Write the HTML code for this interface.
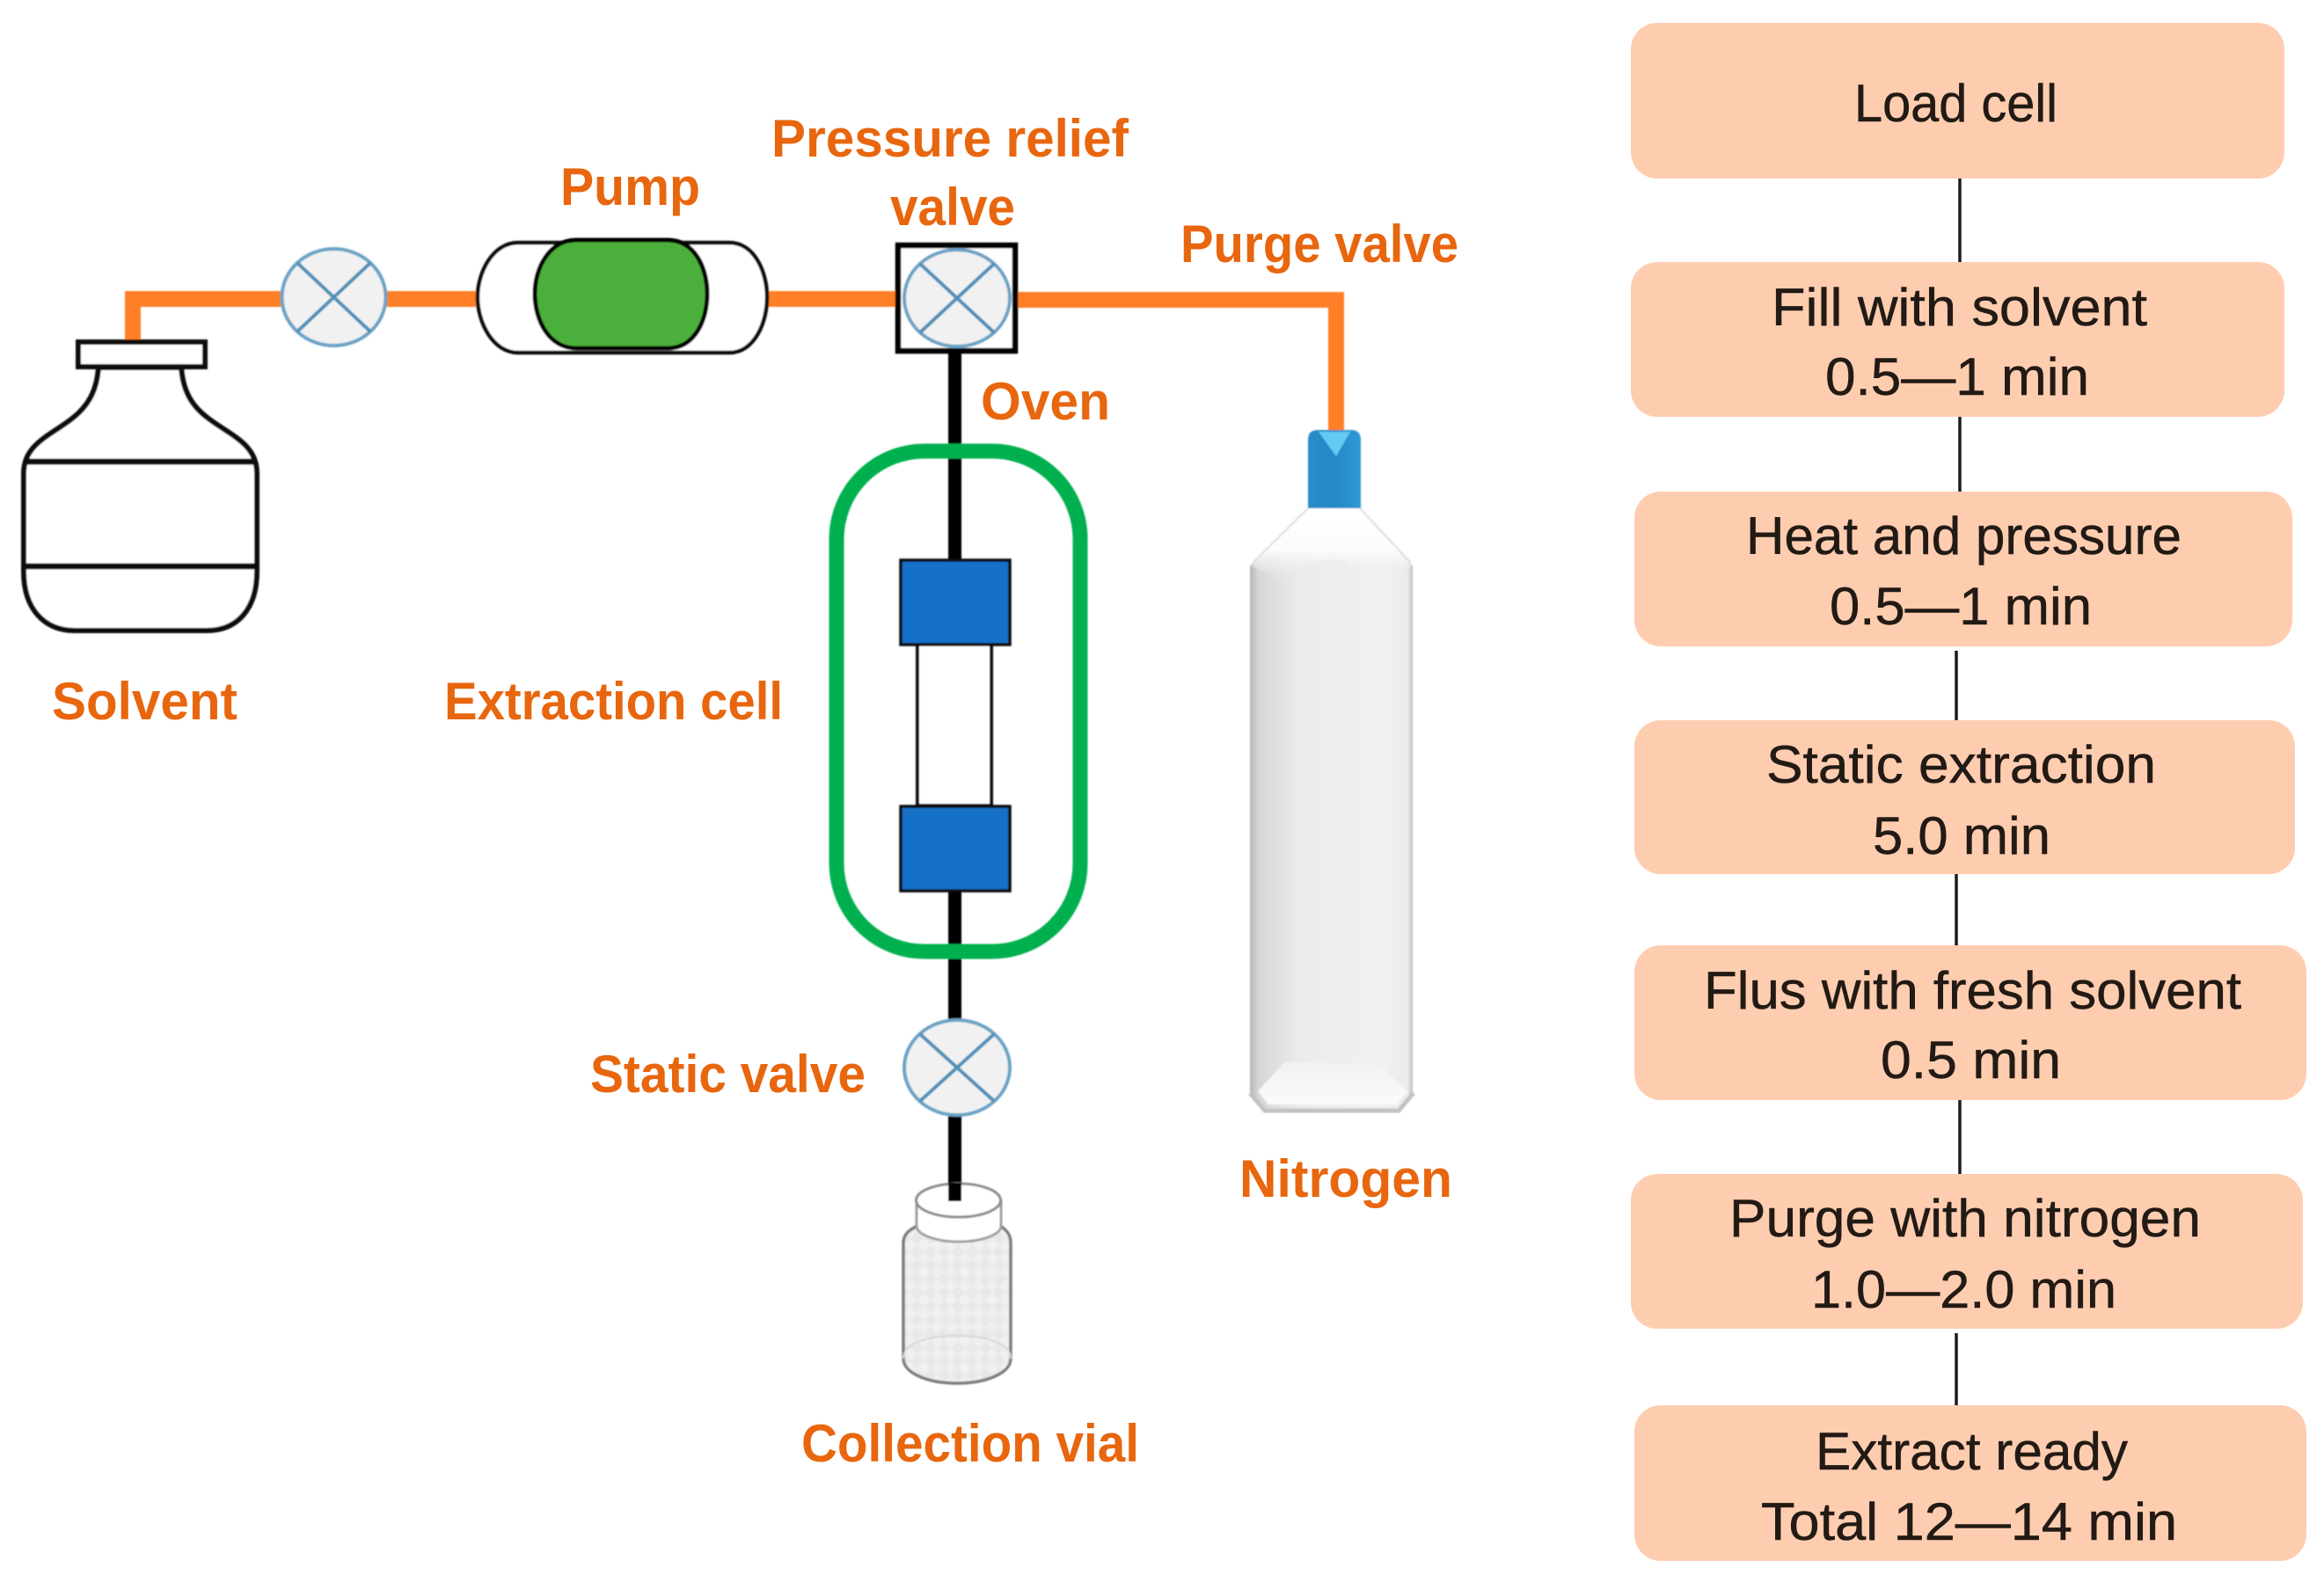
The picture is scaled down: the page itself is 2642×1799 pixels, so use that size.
<!DOCTYPE html>
<html lang="en">
<head>
<meta charset="utf-8">
<title>Extraction diagram</title>
<style>
html,body{margin:0;padding:0;background:#fff;width:2642px;height:1799px;overflow:hidden}
svg{display:block}
.l{font-family:"Liberation Sans",sans-serif;font-weight:700;font-size:60px;fill:#e8660e}
.t{font-family:"Liberation Sans",sans-serif;font-size:60px;fill:#221a14;stroke:#221a14;stroke-width:.5px}
</style>
</head>
<body>
<svg width="2642" height="1799" viewBox="0 0 2642 1799" xmlns="http://www.w3.org/2000/svg">
<defs>
<linearGradient id="body" x1="0" x2="1" y1="0" y2="0">
<stop offset="0" stop-color="#b5b5b5"/><stop offset=".05" stop-color="#d6d6d6"/><stop offset=".3" stop-color="#ebebeb"/><stop offset=".8" stop-color="#f1f1f1"/><stop offset=".97" stop-color="#ebebeb"/><stop offset="1" stop-color="#bdbdbd"/>
</linearGradient>
<linearGradient id="shoulder" x1="0" x2="0" y1="0" y2="1">
<stop offset="0" stop-color="#ffffff"/><stop offset=".55" stop-color="#fcfcfc"/><stop offset="1" stop-color="#ececec" stop-opacity="0"/>
</linearGradient>
<linearGradient id="base" x1="0" x2="0" y1="0" y2="1">
<stop offset="0" stop-color="#f1f1f1"/><stop offset="1" stop-color="#fbfbfb"/>
</linearGradient>
<linearGradient id="capg" x1="0" x2="1" y1="0" y2="0">
<stop offset="0" stop-color="#2a8cc8"/><stop offset=".5" stop-color="#2488c6"/><stop offset="1" stop-color="#2f9ad6"/>
</linearGradient>
<pattern id="hatch" width="22" height="22" patternUnits="userSpaceOnUse" patternTransform="rotate(45)">
<rect width="22" height="22" fill="#f0f0f0"/><rect width="11" height="11" fill="#e8e8e8"/><rect x="11" y="11" width="11" height="11" fill="#e8e8e8"/>
</pattern>
<filter id="soft" x="-5%" y="-5%" width="110%" height="110%"><feGaussianBlur stdDeviation="0.8"/></filter>
</defs>

<g filter="url(#soft)">
<!-- Orange pipes -->
<path d="M151 390V340H1030" fill="none" stroke="#ff7f27" stroke-width="18"/>
<path d="M1150 341H1519V492" fill="none" stroke="#ff7f27" stroke-width="18"/>

<!-- Black pipes -->
<path d="M1085.500 400V640M1085.500 1010V1162M1085.500 1266V1365" fill="none" stroke="#000" stroke-width="15"/>

<!-- Solvent bottle -->
<path d="M112 418C110 445 100 462 82 476C58 495 27 505 27 538V650C27 692 50 717 85 717H235C270 717 292 692 292 650V538C292 505 262 495 237 476C218 462 208 445 206 418Z" fill="#fff" stroke="#0c0c0c" stroke-width="6"/>
<rect x="89" y="389" width="144" height="28" fill="#fff" stroke="#0c0c0c" stroke-width="6"/>
<path d="M29 525H290M29 644H290" fill="none" stroke="#111" stroke-width="7"/>

<!-- Valve 1 -->
<ellipse cx="379.500" cy="338" rx="59" ry="55" fill="#f1f1f1" stroke="#6aa3c6" stroke-width="4"/>
<path d="M338 299L421 377M421 299L338 377" stroke="#4f8fb8" stroke-width="4"/>

<!-- Pump -->
<path d="M589 276H829C858 276 872 310 872 338C872 366 858 401 829 401H589C560 401 543 366 543 338C543 310 560 276 589 276Z" fill="#fff" stroke="#111" stroke-width="4.500"/>
<path d="M655 273H759C790 273 804 305 804 334C804 364 790 396 759 396H655C624 396 608 364 608 334C608 305 624 273 655 273Z" fill="#4bb03a" stroke="#050505" stroke-width="5"/>

<!-- Pressure relief valve -->
<rect x="1021" y="279" width="133" height="120" fill="#fff" stroke="#000" stroke-width="6.500"/>
<ellipse cx="1088" cy="339" rx="60" ry="55" fill="#f1f1f1" stroke="#6aa3c6" stroke-width="4"/>
<path d="M1046 300L1130 378M1130 300L1046 378" stroke="#4f8fb8" stroke-width="4"/>

<!-- Extraction cell -->
<rect x="1043" y="732" width="84" height="184" fill="#fff" stroke="#0c0c0c" stroke-width="4"/>
<rect x="1024" y="637" width="124" height="96" fill="#1670c8" stroke="#111" stroke-width="3.500"/>
<rect x="1024" y="917" width="124" height="96" fill="#1670c8" stroke="#111" stroke-width="3.500"/>

<!-- Oven -->
<rect x="951" y="513" width="277" height="569" rx="100" ry="100" fill="none" stroke="#00b04f" stroke-width="17"/>

<!-- Static valve -->
<ellipse cx="1088" cy="1214" rx="60" ry="54" fill="#f1f1f1" stroke="#6aa3c6" stroke-width="4"/>
<path d="M1046 1176L1130 1252M1130 1176L1046 1252" stroke="#4f8fb8" stroke-width="4"/>

<!-- Collection vial -->
<path d="M1027 1413C1027 1403 1035 1398 1043 1394H1137C1143 1398 1149 1403 1149 1413V1545C1149 1562 1120 1573 1088 1573C1056 1573 1027 1562 1027 1545Z" fill="url(#hatch)" stroke="#7d7d7d" stroke-width="3.500"/>
<path d="M1042 1366V1394C1042 1404 1064 1412 1090 1412C1116 1412 1138 1404 1138 1394V1366Z" fill="#fff" stroke="#9f9f9f" stroke-width="3"/>
<ellipse cx="1089.500" cy="1365" rx="48" ry="19" fill="#fff" stroke="#8c8c8c" stroke-width="3"/>
<path d="M1027 1545C1027 1525 1060 1519 1088 1519C1116 1519 1149 1525 1149 1545" fill="none" stroke="#d8d8d8" stroke-width="2"/>
<path d="M1085.500 1345V1366" stroke="#000" stroke-width="15"/>

<!-- Nitrogen cylinder -->
<path d="M1487 578H1546L1606 643V1245L1590 1262H1438L1421 1245V643Z" fill="url(#body)"/>
<path d="M1487 578H1546L1606 643L1570 662Q1514 610 1458 662L1421 643Z" fill="url(#shoulder)"/>
<path d="M1487 578L1424 640M1546 578L1604 640" stroke="#e2e2e2" stroke-width="2.500" fill="none"/>
<path d="M1430 1241L1460 1208H1565L1600 1241L1587 1256H1442Z" fill="url(#base)"/>
<path d="M1421 1243L1438 1263H1590L1607 1243" fill="none" stroke="#c2c2c2" stroke-width="5"/>
<path d="M1487 500Q1487 489 1498 489H1536Q1547 489 1547 500V578H1487Z" fill="url(#capg)"/>
<path d="M1499 491H1535L1519 519Z" fill="#62caf3"/>
</g>

<!-- Step connectors -->
<g stroke="#1c1c1c" stroke-width="3.500">
<path d="M2228 203V302M2228 474V560M2224 740V822M2224 994V1077M2228 1251V1336M2224 1516V1600"/>
</g>

<!-- Step boxes -->
<g fill="#fecdb0">
<rect x="1854" y="26" width="743" height="177" rx="30"/>
<rect x="1854" y="298" width="743" height="176" rx="30"/>
<rect x="1858" y="559" width="748" height="176" rx="30"/>
<rect x="1858" y="819" width="751" height="175" rx="30"/>
<rect x="1858" y="1075" width="764" height="176" rx="30"/>
<rect x="1854" y="1335" width="764" height="176" rx="30"/>
<rect x="1858" y="1598" width="764" height="177" rx="30"/>
</g>

<!-- Step text -->
<text class="t" x="2108" y="138" textLength="231" lengthAdjust="spacingAndGlyphs">Load cell</text>
<text class="t" x="2014" y="370" textLength="427" lengthAdjust="spacingAndGlyphs">Fill with solvent</text>
<text class="t" x="2075" y="449" textLength="300" lengthAdjust="spacingAndGlyphs">0.5—1 min</text>
<text class="t" x="1985" y="630" textLength="495" lengthAdjust="spacingAndGlyphs">Heat and pressure</text>
<text class="t" x="2080" y="710" textLength="298" lengthAdjust="spacingAndGlyphs">0.5—1 min</text>
<text class="t" x="2008" y="890" textLength="443" lengthAdjust="spacingAndGlyphs">Static extraction</text>
<text class="t" x="2129" y="971" textLength="202" lengthAdjust="spacingAndGlyphs">5.0 min</text>
<text class="t" x="1937" y="1147" textLength="611" lengthAdjust="spacingAndGlyphs">Flus with fresh solvent</text>
<text class="t" x="2138" y="1226" textLength="205" lengthAdjust="spacingAndGlyphs">0.5 min</text>
<text class="t" x="1966" y="1406" textLength="536" lengthAdjust="spacingAndGlyphs">Purge with nitrogen</text>
<text class="t" x="2059" y="1487" textLength="347" lengthAdjust="spacingAndGlyphs">1.0—2.0 min</text>
<text class="t" x="2064" y="1671" textLength="355" lengthAdjust="spacingAndGlyphs">Extract ready</text>
<text class="t" x="2002" y="1751" textLength="473" lengthAdjust="spacingAndGlyphs">Total 12—14 min</text>

<!-- Orange labels -->
<text class="l" x="877" y="178" textLength="406" lengthAdjust="spacingAndGlyphs">Pressure relief</text>
<text class="l" x="1012" y="256" textLength="142" lengthAdjust="spacingAndGlyphs">valve</text>
<text class="l" x="637" y="233" textLength="159" lengthAdjust="spacingAndGlyphs">Pump</text>
<text class="l" x="1342" y="298" textLength="316" lengthAdjust="spacingAndGlyphs">Purge valve</text>
<text class="l" x="1115" y="477" textLength="147" lengthAdjust="spacingAndGlyphs">Oven</text>
<text class="l" x="59" y="818" textLength="211" lengthAdjust="spacingAndGlyphs">Solvent</text>
<text class="l" x="505" y="818" textLength="385" lengthAdjust="spacingAndGlyphs">Extraction cell</text>
<text class="l" x="671" y="1242" textLength="313" lengthAdjust="spacingAndGlyphs">Static valve</text>
<text class="l" x="1409" y="1361" textLength="242" lengthAdjust="spacingAndGlyphs">Nitrogen</text>
<text class="l" x="911" y="1662" textLength="384" lengthAdjust="spacingAndGlyphs">Collection vial</text>
</svg>
</body>
</html>
